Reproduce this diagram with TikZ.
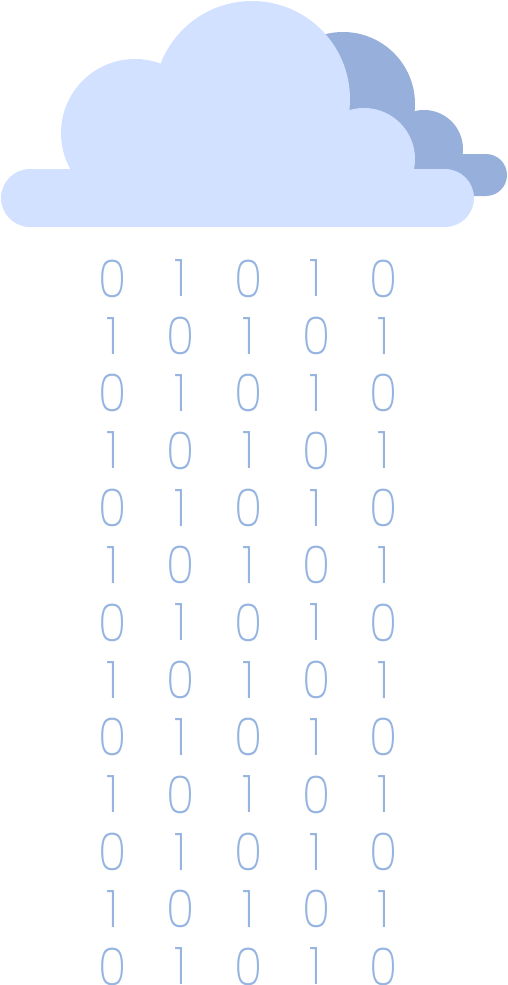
\documentclass[tikz,border=0pt]{standalone}
\usepackage{fontspec}
\newfontfamily\digitfont[UprightFont=* ExtraLight]{Poppins}
\definecolor{cloudfront}{HTML}{D2E1FF}
\definecolor{cloudback}{HTML}{96AFDB}
\definecolor{digitblue}{HTML}{96B4E0}
\tikzset{
  px/.style={x=1pt,y=-1pt},
  backcloud/.style={fill=cloudback,draw=none},
  frontcloud/.style={fill=cloudfront,draw=none},
  digit/.style={inner sep=0pt,outer sep=0pt,text=digitblue,font=\digitfont\fontsize{52}{52}\selectfont,xscale=0.9,anchor=center}
}
\begin{document}
\begin{tikzpicture}[px]
\useasboundingbox (0,0) rectangle (508,985);
% back cloud
\fill[backcloud] (343,104) circle[radius=72];
\fill[backcloud] (424,149) circle[radius=39];
\fill[backcloud,rounded corners=21pt] (300,154) rectangle (507,196);
% front cloud
\fill[frontcloud] (252,99) circle[radius=98];
\fill[frontcloud] (135,133) circle[radius=74];
\fill[frontcloud] (364,159) circle[radius=51];
\fill[frontcloud,rounded corners=29pt] (1,169) rectangle (474,227);
% digits
\foreach \r in {0,...,12}{
  \pgfmathsetmacro{\yy}{278.5+57.33*\r}
  \foreach \c/\xx in {0/113,1/181,2/249,3/316.5,4/384}{
    \pgfmathtruncatemacro{\odd}{mod(\r+\c,2)}
    \ifnum\odd=0
      \node[digit] (d\r-\c) at (\xx,\yy) {0};
    \else
      \node[digit,xshift=-1pt] (d\r-\c) at (\xx,\yy) {1};
    \fi
  }
}
\end{tikzpicture}
\end{document}
